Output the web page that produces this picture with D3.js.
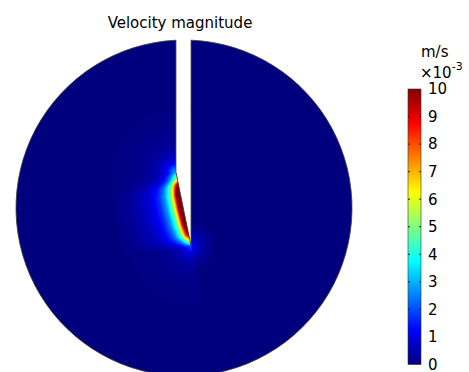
<!DOCTYPE html>
<html>
<head>
<meta charset="utf-8">
<script src="https://cdn.jsdelivr.net/npm/d3@7"></script>
<style>
  body { margin: 0; background: #fff; }
  svg { display: block; }
  text { font-family: "DejaVu Sans", sans-serif; fill: #000; }
</style>
</head>
<body>
<svg id="chart" width="469" height="372"></svg>
<script>
// legend ticks, in 1e-3 m/s
const cbTicks = [0, 1, 2, 3, 4, 5, 6, 7, 8, 9, 10];
const jetStops = [0, 1.25, 3.75, 6.25, 8.75, 10];
const jetColors = ['#00007f', '#0000ff', '#00ffff', '#ffff00', '#ff0000', '#7f0000'];

// peak speed along the slanted face of the slit (0 = knee, 1 = tip)
const alongT = [0, 0.1, 0.18, 0.3, 0.5, 0.7, 0.85, 0.93, 1];
const alongPeak = [3, 6, 11, 14, 14, 12.5, 10, 6, 2];

// decay away from the face (distance in disk radii -> fraction of peak)
const acrossD = [0, 0.018, 0.030, 0.042, 0.054, 0.071, 0.095, 0.131, 0.19, 0.30, 0.42];
const acrossF = [1, 0.8, 0.66, 0.5, 0.4, 0.3, 0.2, 0.12, 0.06, 0.02, 0];

// weak halo on the right of the tip
const tipD = [0, 0.03, 0.08, 0.15];
const tipV = [1.5, 0.8, 0.3, 0];

const width = 469, height = 372;
const svg = d3.select('#chart');

// model coords: disk of radius 1
const x = d3.scaleLinear().domain([-1, 1]).range([16, 352]);
const y = d3.scaleLinear().domain([-1, 1]).range([376, 40]);

// slit geometry
const slitL = -0.048, slitR = 0.042, kneeY = 0.214, tipY = -0.226;

const color = d3.scaleLinear().domain(jetStops).range(jetColors).clamp(true);
const lut = d3.range(256).map(i => d3.rgb(color(i / 255 * 10)));

const peakAt = d3.scaleLinear().domain(alongT).range(alongPeak).clamp(true);
const fallAt = d3.scaleLinear().domain(acrossD).range(acrossF).clamp(true);
const tipAt = d3.scaleLinear().domain(tipD).range(tipV).clamp(true);

function speed(px, py) {
  const ex = slitR - slitL, ey = tipY - kneeY;
  const L2 = ex * ex + ey * ey;
  const t = ((px - slitL) * ex + (py - kneeY) * ey) / L2;
  const tc = Math.max(0, Math.min(1, t));
  const qx = slitL + tc * ex, qy = kneeY + tc * ey;
  const d = Math.hypot(px - qx, py - qy);
  const cross = ex * (py - kneeY) - ey * (px - slitL);
  const dt = Math.hypot(px - slitR, py - tipY);
  let v = tipAt(dt);
  if (cross < 0 || px < slitL) v = Math.max(v, peakAt(tc) * fallAt(d));
  return v;
}

// raster of the field
const canvas = document.createElement('canvas');
canvas.width = width;
canvas.height = height;
const ctx = canvas.getContext('2d');
const img = ctx.createImageData(width, height);
for (let j = 0; j < height; j++) {
  for (let i = 0; i < width; i++) {
    const mx = x.invert(i + 0.5), my = y.invert(j + 0.5);
    if (mx * mx + my * my > 1.02) continue;
    const v = speed(mx, my);
    const c = lut[Math.round(Math.max(0, Math.min(10, v)) / 10 * 255)];
    const k = (j * width + i) * 4;
    img.data[k] = c.r;
    img.data[k + 1] = c.g;
    img.data[k + 2] = c.b;
    img.data[k + 3] = 255;
  }
}
ctx.putImageData(img, 0, 0);

// domain outline: disk with the slit cut out
const cx = x(0), cy = y(0), r = x(1) - x(0);
const topR = Math.sqrt(1 - slitR * slitR), topL = Math.sqrt(1 - slitL * slitL);
const aR = Math.atan2(y(topR) - cy, x(slitR) - cx);
const aL = Math.atan2(y(topL) - cy, x(slitL) - cx);
const p = d3.path();
p.moveTo(x(slitR), y(topR));
p.arc(cx, cy, r, aR, aL + 2 * Math.PI, false);
p.lineTo(x(slitL), y(kneeY));
p.lineTo(x(slitR), y(tipY));
p.closePath();

const defs = svg.append('defs');
defs.append('clipPath').attr('id', 'domain').append('path').attr('d', p.toString());

svg.append('image')
  .attr('href', canvas.toDataURL())
  .attr('x', 0).attr('y', 0)
  .attr('width', width).attr('height', height)
  .attr('clip-path', 'url(#domain)');

svg.append('path')
  .attr('d', p.toString())
  .attr('fill', 'none')
  .attr('stroke', '#3a3a3a')
  .attr('stroke-width', 0.8);

svg.append('text')
  .attr('x', 180).attr('y', 28)
  .attr('text-anchor', 'middle')
  .attr('font-size', 15)
  .text('Velocity magnitude');

// colour legend
const cbY = d3.scaleLinear().domain([0, 10]).range([364.5, 89]);
const cbX = 408, cbW = 13;

const grad = defs.append('linearGradient')
  .attr('id', 'jet')
  .attr('x1', 0).attr('y1', 1).attr('x2', 0).attr('y2', 0);
grad.selectAll('stop')
  .data(jetStops)
  .join('stop')
  .attr('offset', d => d / 10)
  .attr('stop-color', (d, i) => jetColors[i]);

svg.append('rect')
  .attr('x', cbX).attr('y', cbY(10))
  .attr('width', cbW).attr('height', cbY(0) - cbY(10))
  .attr('fill', 'url(#jet)')
  .attr('stroke', '#333')
  .attr('stroke-width', 0.6);

const tickG = svg.append('g');
tickG.selectAll('line.l')
  .data(cbTicks.slice(1, -1))
  .join('line')
  .attr('class', 'l')
  .attr('x1', cbX).attr('x2', cbX + 2)
  .attr('y1', d => cbY(d)).attr('y2', d => cbY(d))
  .attr('stroke', '#222');
tickG.selectAll('line.r')
  .data(cbTicks.slice(1, -1))
  .join('line')
  .attr('class', 'r')
  .attr('x1', cbX + cbW - 2).attr('x2', cbX + cbW)
  .attr('y1', d => cbY(d)).attr('y2', d => cbY(d))
  .attr('stroke', '#222');

const axis = svg.append('g')
  .attr('transform', `translate(${cbX + cbW},0)`)
  .call(d3.axisRight(cbY).tickValues(cbTicks).tickSize(0).tickPadding(7).tickFormat(d3.format('d')));
axis.select('.domain').remove();
axis.selectAll('text').attr('font-size', 15).attr('font-family', '"DejaVu Sans", sans-serif').attr('fill', '#000');

svg.append('text')
  .attr('x', 421).attr('y', 57)
  .attr('font-size', 15)
  .text('m/s');

const mult = svg.append('text')
  .attr('x', 420).attr('y', 78)
  .attr('font-size', 15);
mult.append('tspan').text('\u00d710');
mult.append('tspan').attr('font-size', 11).attr('dy', -8).text('-3');
</script>
</body>
</html>
